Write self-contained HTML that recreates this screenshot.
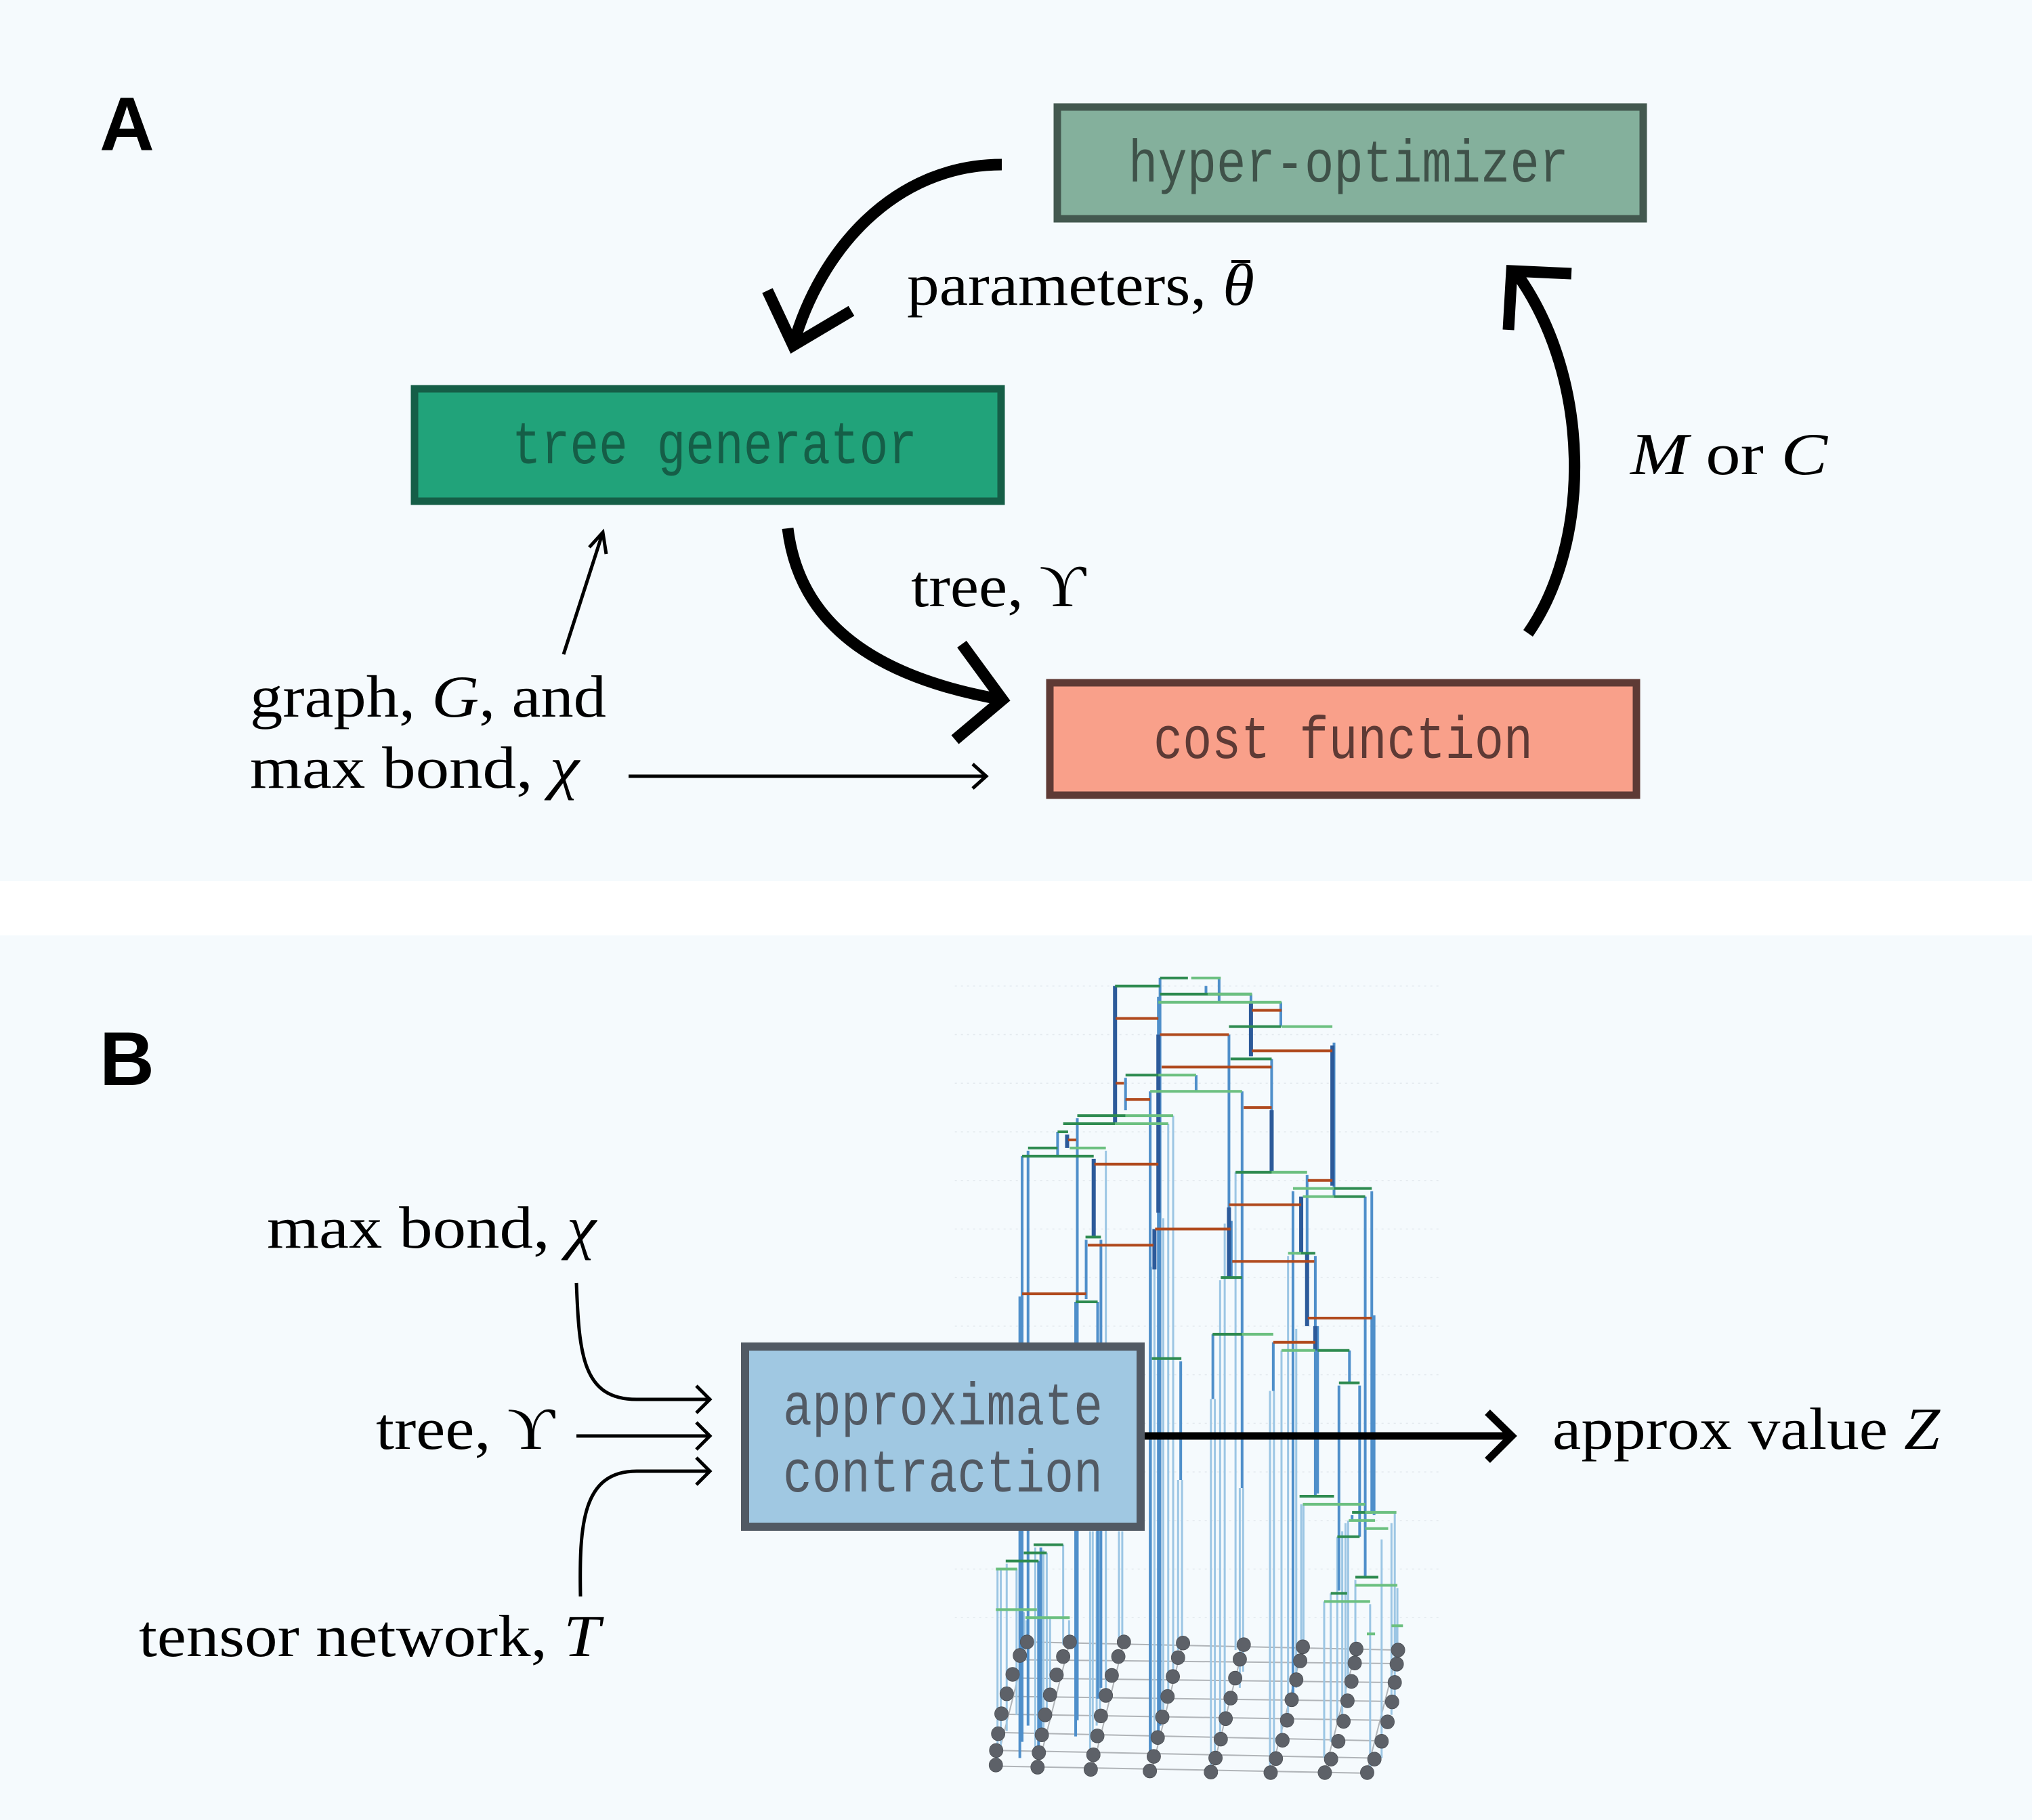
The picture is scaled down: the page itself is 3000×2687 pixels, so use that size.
<!DOCTYPE html>
<html><head><meta charset="utf-8"><style>
html,body{margin:0;padding:0;background:#fff}
svg{display:block}
.s{font-family:"Liberation Serif","DejaVu Serif",serif;font-size:88px;fill:#000}
.m{font-family:"Liberation Mono","DejaVu Sans Mono",monospace;font-size:88px;text-anchor:middle}
.i{font-style:italic}
</style></head><body>
<svg width="3000" height="2687" viewBox="0 0 3000 2687" xmlns="http://www.w3.org/2000/svg">
<rect x="0" y="0" width="3000" height="1301" fill="#f5fafd"/>
<rect x="0" y="1381" width="3000" height="1306" fill="#f5fafd"/>
<text x="147" y="222" font-family="Liberation Sans,sans-serif" font-weight="bold" font-size="112">A</text>
<text x="147" y="1602" font-family="Liberation Sans,sans-serif" font-weight="bold" font-size="112">B</text>

<!-- Panel A boxes -->
<rect x="1561" y="158" width="865" height="165" fill="#84b09c" stroke="#43584f" stroke-width="11"/>
<text class="m" x="1991" y="268" fill="#3f5249" textLength="650" lengthAdjust="spacingAndGlyphs">hyper-optimizer</text>
<rect x="612" y="574" width="866" height="166" fill="#21a37a" stroke="#155e47" stroke-width="11"/>
<text class="m" x="1055" y="684" fill="#155e47" textLength="598" lengthAdjust="spacingAndGlyphs">tree generator</text>
<rect x="1550" y="1008" width="866" height="166" fill="#f9a08a" stroke="#5e3a35" stroke-width="11"/>
<text class="m" x="1983" y="1119" fill="#5e3a35" textLength="560" lengthAdjust="spacingAndGlyphs">cost function</text>

<!-- Panel A arrows -->
<g fill="none" stroke="#000" stroke-width="17" stroke-linejoin="miter">
<path d="M1479,243 C1320,243 1210,370 1171,510"/>
<polyline points="1133,429 1171,510 1257,459"/>
<path d="M2256,935 C2350,800 2350,560 2240,405"/>
<polyline points="2227,487 2232,400 2320,404"/>
<path d="M1163,780 C1180,920 1290,1000 1480,1033"/>
<polyline points="1420,951 1480,1033 1410,1092"/>
</g>
<g fill="none" stroke="#000" stroke-width="5">
<path d="M832,966 L890,786"/>
<polyline points="870,808 890,786 895,818"/>
<path d="M928,1146 L1456,1146"/>
<polyline points="1436,1128 1456,1146 1436,1164"/>
</g>
<text class="s" x="1339" y="450" textLength="513" lengthAdjust="spacingAndGlyphs">parameters, <tspan class="i">θ</tspan></text>
<line x1="1818" y1="386" x2="1846" y2="386" stroke="#000" stroke-width="4"/>
<text class="s" x="1345" y="895" textLength="258" lengthAdjust="spacingAndGlyphs">tree, ϒ</text>
<text class="s" x="2407" y="700" textLength="291" lengthAdjust="spacingAndGlyphs"><tspan class="i">M</tspan> or <tspan class="i">C</tspan></text>
<text class="s" x="369" y="1058" textLength="526" lengthAdjust="spacingAndGlyphs">graph, <tspan class="i">G</tspan>, and</text>
<text class="s" x="369" y="1163" textLength="486" lengthAdjust="spacingAndGlyphs">max bond, <tspan class="i">χ</tspan></text>

<!-- Panel B tree diagram (zoom-space coordinates) -->
<g transform="translate(1400,1400) scale(0.4847,0.797)" fill="none">
<g stroke="#e3e9ee" stroke-width="1.5" stroke-dasharray="3 6">
<line x1="20" y1="70" x2="1500" y2="70" vector-effect="non-scaling-stroke"/>
<line x1="20" y1="160" x2="1500" y2="160" vector-effect="non-scaling-stroke"/>
<line x1="20" y1="250" x2="1500" y2="250" vector-effect="non-scaling-stroke"/>
<line x1="20" y1="340" x2="1500" y2="340" vector-effect="non-scaling-stroke"/>
<line x1="20" y1="430" x2="1500" y2="430" vector-effect="non-scaling-stroke"/>
<line x1="20" y1="520" x2="1500" y2="520" vector-effect="non-scaling-stroke"/>
<line x1="20" y1="610" x2="1500" y2="610" vector-effect="non-scaling-stroke"/>
<line x1="20" y1="700" x2="1500" y2="700" vector-effect="non-scaling-stroke"/>
<line x1="20" y1="790" x2="1500" y2="790" vector-effect="non-scaling-stroke"/>
<line x1="20" y1="880" x2="1500" y2="880" vector-effect="non-scaling-stroke"/>
<line x1="20" y1="970" x2="1500" y2="970" vector-effect="non-scaling-stroke"/>
<line x1="20" y1="1060" x2="1500" y2="1060" vector-effect="non-scaling-stroke"/>
<line x1="20" y1="1150" x2="1500" y2="1150" vector-effect="non-scaling-stroke"/>
<line x1="20" y1="1240" x2="1500" y2="1240" vector-effect="non-scaling-stroke"/>
</g>
<g stroke="#b0b4b8" stroke-width="2">
<path vector-effect="non-scaling-stroke" d="M240,1285 L1370,1300 M226,1318 L1356,1325 M213,1352 L1343,1360 M199,1386 L1329,1395 M185,1419 L1315,1430 M172,1453 L1302,1468 M158,1486 L1288,1500 M144,1515 L1274,1528"/>
<path vector-effect="non-scaling-stroke" d="M240,1285 L144,1515 M370,1285 L274,1515 M535,1285 L439,1520 M715,1285 L619,1525 M900,1290 L804,1525 M1080,1295 L984,1525 M1243,1298 L1147,1525 M1370,1300 L1274,1528"/>
</g>
<g stroke="#9cc6e4" stroke-width="3">
<path vector-effect="non-scaling-stroke" d="M150,1150 V1510 M160,1150 V1480 M178,1140 V1450 M208,1150 V1420 M230,1230 V1300 M238,1245 V1290 M265,1110 V1480 M290,1115 V1450 M300,1120 V1420 M310,1240 V1390 M350,1105 V1290 M368,1245 V1290 M432,1080 V1500 M440,1080 V1470 M452,1080 V1440 M462,1080 V1420 M480,375 V1380 M520,1080 V1290 M530,1080 V1280 M618,590 V1500 M628,590 V1470 M655,500 V1410 M670,325 V1380 M685,310 V1340 M700,985 V1300 M712,985 V1280 M800,835 V1520 M812,835 V1490 M828,615 V1460 M842,510 V1420 M888,1000 V1370 M898,1000 V1340 M875,415 V1300 M980,820 V1520 M992,820 V1490 M1015,745 V1460 M1035,570 V1420 M1050,450 V1400 M1060,705 V1370 M1075,1030 V1310 M1082,1030 V1290 M1145,1210 V1500 M1165,1195 V1470 M1185,1090 V1430 M1200,1080 V1420 M1210,1065 V1390 M1218,1060 V1350 M1240,1170 V1320 M1285,1215 V1520 M1320,1095 V1500 M1350,1065 V1420 M1360,1045 V1400 M1368,1185 V1340 M1365,1255 V1300"/>
</g>
<g stroke="#4f8fca" stroke-width="4">
<path vector-effect="non-scaling-stroke" d="M218,645 V1500 M225,385 V1470 M243,375 V1440 M275,1135 V1500 M282,1110 V1470 M333,340 V385 M388,655 V1460 M393,315 V1430 M420,540 V650 M455,655 V1390 M465,540 V1370 M540,240 V300 M615,265 V1500 M640,90 V1460 M645,85 V1440 M708,765 V985 M755,235 V265 M806,715 V835 M855,160 V610 M862,505 V610 M895,265 V1000 M922,85 V200 M985,205 V415 M990,730 V820 M1013,100 V145 M1050,450 V1400 M1093,420 V700 M1118,570 V1015 M1125,700 V1010 M1175,175 V460 M1190,810 V1190 M1222,745 V805 M1253,810 V1090 M1270,460 V1165 M1290,450 V1045 M1297,680 V1050 M1230,1050 V1060 M645,55 V90 M785,70 V85 M825,55 V100"/>
</g>
<g stroke="#2c5a9a" stroke-width="6">
<path vector-effect="non-scaling-stroke" d="M508,70 V325 M640,160 V490 M628,520 V595 M443,390 V535 M1075,460 V565 M1093,565 V700 M1118,700 V745 M985,300 V415 M922,100 V200 M1170,180 V440 M855,480 V610 M362,345 V370"/>
</g>
<g stroke="#2e8b50" stroke-width="4">
<path vector-effect="non-scaling-stroke" d="M508,70 H645 M645,55 H730 M645,85 H925 M855,145 H1013 M860,205 H985 M540,235 H640 M393,310 H540 M350,325 H508 M243,370 H333 M225,385 H443 M875,415 H985 M1175,445 H1290 M1175,460 H1270 M830,610 H895 M1060,565 H1118 M805,715 H895 M1125,745 H1222 M620,760 H710 M1190,805 H1253 M1070,1015 H1175 M1230,1045 H1290 M1185,1090 H1253 M1240,1165 H1310 M1165,1195 H1215 M260,1105 H350 M175,1135 H275 M230,1120 H300 M418,535 H465 M388,655 H455 M333,340 H365"/>
</g>
<g stroke="#6cc080" stroke-width="4">
<path vector-effect="non-scaling-stroke" d="M740,55 H830 M790,85 H925 M640,100 H1015 M1015,145 H1170 M640,235 H755 M615,265 H895 M540,310 H685 M508,325 H670 M370,370 H480 M985,415 H1093 M1050,445 H1175 M1080,460 H1175 M1035,565 H1075 M895,715 H990 M1015,745 H1118 M1080,1030 H1270 M1270,1045 H1365 M1270,1075 H1340 M1240,1180 H1368 M1145,1210 H1285 M145,1150 H210 M145,1225 H270 M235,1240 H370 M1220,1060 H1300 M1275,1270 H1300 M1350,1255 H1385"/>
</g>
<g stroke="#b04a1e" stroke-width="4">
<path vector-effect="non-scaling-stroke" d="M510,130 H640 M645,160 H855 M650,220 H985 M925,115 H1015 M925,190 H1170 M540,280 H615 M900,295 H985 M445,400 H640 M1095,430 H1170 M855,475 H1075 M630,520 H860 M425,550 H625 M865,580 H1115 M225,640 H420 M1095,685 H1290 M990,730 H1118 M365,355 H390 M510,250 H535"/>
</g>
<g fill="#5d6168" stroke="#44484e" stroke-width="1">
<ellipse cx="240" cy="1285" rx="21" ry="13"/><ellipse cx="370" cy="1285" rx="21" ry="13"/><ellipse cx="535" cy="1285" rx="21" ry="13"/><ellipse cx="715" cy="1287" rx="21" ry="13"/><ellipse cx="900" cy="1290" rx="21" ry="13"/><ellipse cx="1080" cy="1294" rx="21" ry="13"/><ellipse cx="1243" cy="1298" rx="21" ry="13"/><ellipse cx="1370" cy="1300" rx="21" ry="13"/>
<ellipse cx="218" cy="1310" rx="21" ry="13"/><ellipse cx="350" cy="1312" rx="21" ry="13"/><ellipse cx="518" cy="1312" rx="21" ry="13"/><ellipse cx="700" cy="1314" rx="21" ry="13"/><ellipse cx="888" cy="1317" rx="21" ry="13"/><ellipse cx="1072" cy="1320" rx="21" ry="13"/><ellipse cx="1238" cy="1324" rx="21" ry="13"/><ellipse cx="1366" cy="1326" rx="21" ry="13"/>
<ellipse cx="196" cy="1345" rx="21" ry="13"/><ellipse cx="330" cy="1346" rx="21" ry="13"/><ellipse cx="498" cy="1347" rx="21" ry="13"/><ellipse cx="684" cy="1349" rx="21" ry="13"/><ellipse cx="874" cy="1352" rx="21" ry="13"/><ellipse cx="1060" cy="1355" rx="21" ry="13"/><ellipse cx="1228" cy="1358" rx="21" ry="13"/><ellipse cx="1360" cy="1360" rx="21" ry="13"/>
<ellipse cx="178" cy="1381" rx="21" ry="13"/><ellipse cx="310" cy="1383" rx="21" ry="13"/><ellipse cx="480" cy="1384" rx="21" ry="13"/><ellipse cx="668" cy="1386" rx="21" ry="13"/><ellipse cx="860" cy="1389" rx="21" ry="13"/><ellipse cx="1046" cy="1392" rx="21" ry="13"/><ellipse cx="1216" cy="1394" rx="21" ry="13"/><ellipse cx="1352" cy="1396" rx="21" ry="13"/>
<ellipse cx="162" cy="1418" rx="21" ry="13"/><ellipse cx="295" cy="1420" rx="21" ry="13"/><ellipse cx="465" cy="1422" rx="21" ry="13"/><ellipse cx="652" cy="1424" rx="21" ry="13"/><ellipse cx="845" cy="1427" rx="21" ry="13"/><ellipse cx="1032" cy="1430" rx="21" ry="13"/><ellipse cx="1204" cy="1432" rx="21" ry="13"/><ellipse cx="1338" cy="1433" rx="21" ry="13"/>
<ellipse cx="152" cy="1455" rx="21" ry="13"/><ellipse cx="285" cy="1457" rx="21" ry="13"/><ellipse cx="454" cy="1459" rx="21" ry="13"/><ellipse cx="638" cy="1462" rx="21" ry="13"/><ellipse cx="830" cy="1465" rx="21" ry="13"/><ellipse cx="1018" cy="1467" rx="21" ry="13"/><ellipse cx="1188" cy="1469" rx="21" ry="13"/><ellipse cx="1320" cy="1469" rx="21" ry="13"/>
<ellipse cx="146" cy="1486" rx="21" ry="13"/><ellipse cx="276" cy="1490" rx="21" ry="13"/><ellipse cx="442" cy="1494" rx="21" ry="13"/><ellipse cx="626" cy="1497" rx="21" ry="13"/><ellipse cx="814" cy="1500" rx="21" ry="13"/><ellipse cx="998" cy="1501" rx="21" ry="13"/><ellipse cx="1166" cy="1502" rx="21" ry="13"/><ellipse cx="1298" cy="1502" rx="21" ry="13"/>
<ellipse cx="145" cy="1513" rx="21" ry="13"/><ellipse cx="272" cy="1517" rx="21" ry="13"/><ellipse cx="434" cy="1521" rx="21" ry="13"/><ellipse cx="614" cy="1524" rx="21" ry="13"/><ellipse cx="800" cy="1526" rx="21" ry="13"/><ellipse cx="982" cy="1527" rx="21" ry="13"/><ellipse cx="1147" cy="1527" rx="21" ry="13"/><ellipse cx="1276" cy="1527" rx="21" ry="13"/>
</g>
</g>

<!-- Panel B box -->
<rect x="1100" y="1988" width="584" height="266" fill="#a0c8e2" stroke="#525a64" stroke-width="12"/>
<text class="m" x="1392" y="2103" fill="#525a64" textLength="472" lengthAdjust="spacingAndGlyphs">approximate</text>
<text class="m" x="1392" y="2202" fill="#525a64" textLength="472" lengthAdjust="spacingAndGlyphs">contraction</text>

<!-- Panel B arrows -->
<g fill="none" stroke="#000" stroke-width="11">
<path d="M1690,2120 H2230"/>
<polyline points="2196,2085 2232,2120 2196,2156"/>
</g>
<g fill="none" stroke="#000" stroke-width="5">
<path d="M851,1894 C855,2000 860,2066 940,2066 L1048,2066"/>
<polyline points="1028,2046 1048,2066 1028,2086"/>
<path d="M851,2120 H1048"/>
<polyline points="1028,2100 1048,2120 1028,2140"/>
<path d="M857,2357 C855,2250 860,2172 940,2172 L1048,2172"/>
<polyline points="1028,2152 1048,2172 1028,2192"/>
</g>
<text class="s" x="394" y="1842" textLength="486" lengthAdjust="spacingAndGlyphs">max bond, <tspan class="i">χ</tspan></text>
<text class="s" x="555" y="2139" textLength="264" lengthAdjust="spacingAndGlyphs">tree, ϒ</text>
<text class="s" x="205" y="2445" textLength="681" lengthAdjust="spacingAndGlyphs">tensor network, <tspan class="i">T</tspan></text>
<text class="s" x="2292" y="2139" textLength="572" lengthAdjust="spacingAndGlyphs">approx value <tspan class="i">Z</tspan></text>
</svg>
</body></html>
